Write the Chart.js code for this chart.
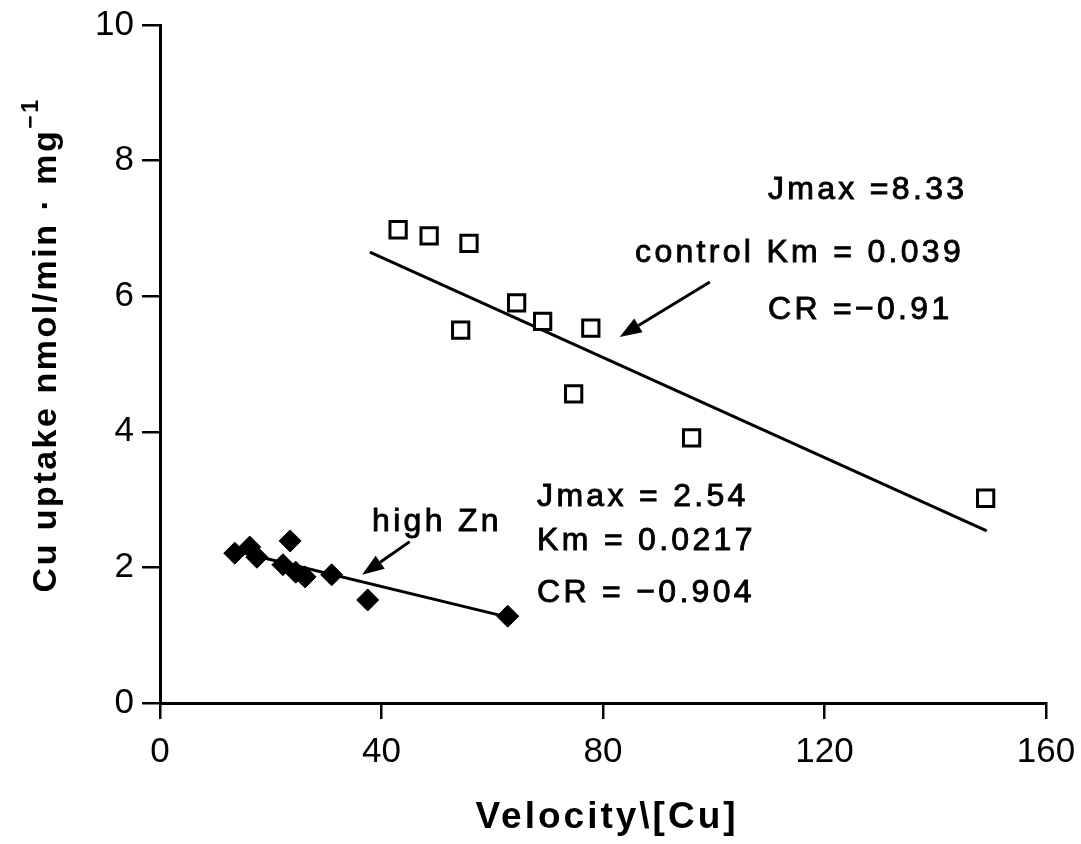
<!DOCTYPE html>
<html>
<head>
<meta charset="utf-8">
<script src="https://cdn.jsdelivr.net/npm/chart.js@4"></script>
<style>
  html, body { margin: 0; padding: 0; background: #fff; }
  #wrap { width: 1081px; height: 844px; }
</style>
</head>
<body>
<div id="wrap"><canvas id="chart" width="1081" height="844"></canvas></div>
<script>
// control series (open squares)
const controlX = [43.0, 48.6, 55.8, 54.3, 64.4, 69.1, 77.8, 74.7, 96.0, 149.1];
const controlY = [6.98, 6.89, 6.78, 5.50, 5.90, 5.63, 5.53, 4.56, 3.91, 3.02];
// high Zn series (filled diamonds)
const zincX = [13.5, 16.2, 17.5, 23.5, 22.2, 24.5, 26.2, 31.0, 37.5, 62.8];
const zincY = [2.21, 2.30, 2.15, 2.39, 2.04, 1.93, 1.86, 1.89, 1.52, 1.28];
// regression lines (end points)
const controlFitX = [37.9, 149.3];
const controlFitY = [6.65, 2.54];
const zincFitX = [13.2, 62.6];
const zincFitY = [2.25, 1.27];
// axis ticks
const xTicks = [0, 40, 80, 120, 160];
const yTicks = [0, 2, 4, 6, 8, 10];

// annotation text, anchored in data units (left edge, middle)
const notes = [
  { text: 'Jmax =8.33', x: 109.8, y: 7.57 },
  { text: 'control Km = 0.039', x: 85.8, y: 6.64 },
  { text: 'CR =\u22120.91', x: 109.8, y: 5.80 },
  { text: 'Jmax = 2.54', x: 68.1, y: 3.04 },
  { text: 'Km = 0.0217', x: 68.1, y: 2.39 },
  { text: 'CR = \u22120.904', x: 68.1, y: 1.62 },
  { text: 'high Zn', x: 38.3, y: 2.67 }
];
// arrows: tail -> head, data units
const arrows = [
  { x1: 99.3, y1: 6.21, x2: 83.0, y2: 5.40 },
  { x1: 45.1, y1: 2.38, x2: 36.5, y2: 1.89 }
];

const pts = (xs, ys) => xs.map((x, i) => ({ x: x, y: ys[i] }));
const FONT = "'Liberation Sans', Arial, sans-serif";

const annotate = {
  id: 'annotate',
  afterDatasetsDraw(chart) {
    const { ctx, scales: { x, y } } = chart;
    ctx.save();
    ctx.fillStyle = '#000';
    ctx.strokeStyle = '#000';
    ctx.font = '32px ' + FONT;
    ctx.letterSpacing = '3.3px';
    ctx.textBaseline = 'middle';
    ctx.textAlign = 'left';
    ctx.lineWidth = 0.9;
    notes.forEach(n => {
      const px = x.getPixelForValue(n.x), py = y.getPixelForValue(n.y);
      ctx.fillText(n.text, px, py);
      ctx.strokeText(n.text, px, py);
    });

    ctx.letterSpacing = '0px';
    ctx.lineWidth = 3;
    arrows.forEach(a => {
      const x1 = x.getPixelForValue(a.x1), y1 = y.getPixelForValue(a.y1);
      const x2 = x.getPixelForValue(a.x2), y2 = y.getPixelForValue(a.y2);
      const ang = Math.atan2(y2 - y1, x2 - x1);
      const len = 22, w = 8;
      const bx = x2 - len * Math.cos(ang), by = y2 - len * Math.sin(ang);
      ctx.beginPath();
      ctx.moveTo(x1, y1);
      ctx.lineTo(bx, by);
      ctx.stroke();
      ctx.beginPath();
      ctx.moveTo(x2, y2);
      ctx.lineTo(bx + w * Math.sin(ang), by - w * Math.cos(ang));
      ctx.lineTo(bx - w * Math.sin(ang), by + w * Math.cos(ang));
      ctx.closePath();
      ctx.fill();
    });

    // x axis title
    ctx.font = 'bold 37px ' + FONT;
    ctx.letterSpacing = '3px';
    ctx.textAlign = 'center';
    ctx.textBaseline = 'alphabetic';
    ctx.fillText('Velocity\\[Cu]', (x.left + x.right) / 2 + 4, 828);

    // y axis title with superscript
    ctx.save();
    ctx.translate(47, (y.top + y.bottom) / 2 - 19);
    ctx.rotate(-Math.PI / 2);
    ctx.textAlign = 'left';
    ctx.textBaseline = 'middle';
    ctx.letterSpacing = '2.5px';
    const main = 'Cu uptake nmol/min \u00b7 mg';
    ctx.font = 'bold 34px ' + FONT;
    const w1 = ctx.measureText(main).width;
    ctx.font = 'bold 23px ' + FONT;
    const w2 = ctx.measureText('\u22121').width;
    const start = -(w1 + w2) / 2;
    ctx.font = 'bold 34px ' + FONT;
    ctx.fillText(main, start, 0);
    ctx.font = 'bold 23px ' + FONT;
    ctx.fillText('\u22121', start + w1, -15);
    ctx.restore();

    ctx.restore();
  }
};

new Chart(document.getElementById('chart'), {
  type: 'scatter',
  data: {
    datasets: [
      {
        label: 'control',
        data: pts(controlX, controlY),
        pointStyle: 'rect',
        pointRadius: 11.5,
        pointBackgroundColor: '#fff',
        pointBorderColor: '#000',
        pointBorderWidth: 3,
        showLine: false,
        order: 1
      },
      {
        label: 'high Zn',
        data: pts(zincX, zincY),
        pointStyle: 'rectRot',
        pointRadius: 11,
        pointBackgroundColor: '#000',
        pointBorderColor: '#000',
        pointBorderWidth: 1,
        showLine: false,
        order: 1
      },
      {
        label: 'control fit',
        data: pts(controlFitX, controlFitY),
        showLine: true,
        borderColor: '#000',
        borderWidth: 3,
        pointRadius: 0,
        order: 2
      },
      {
        label: 'high Zn fit',
        data: pts(zincFitX, zincFitY),
        showLine: true,
        borderColor: '#000',
        borderWidth: 3,
        pointRadius: 0,
        order: 2
      }
    ]
  },
  options: {
    responsive: false,
    animation: false,
    layout: { padding: { top: 25, right: 35, left: 0, bottom: 0 } },
    plugins: {
      legend: { display: false },
      tooltip: { enabled: false }
    },
    scales: {
      x: {
        type: 'linear',
        min: 0, max: 160,
        afterBuildTicks: s => { s.ticks = xTicks.map(v => ({ value: v })); },
        afterFit: s => { s.height = 141; s.paddingLeft = 0; s.paddingRight = 0; },
        grid: { drawOnChartArea: false, drawTicks: true, tickLength: 16, color: '#000', lineWidth: 2.5 },
        border: { color: '#000', width: 3 },
        ticks: { color: '#000', padding: 12, font: { family: FONT, size: 35 } }
      },
      y: {
        type: 'linear',
        min: 0, max: 10,
        afterBuildTicks: s => { s.ticks = yTicks.map(v => ({ value: v })); },
        afterFit: s => { s.width = 160; s.paddingTop = 0; s.paddingBottom = 0; },
        grid: { drawOnChartArea: false, drawTicks: true, tickLength: 18, color: '#000', lineWidth: 2.5 },
        border: { color: '#000', width: 3 },
        ticks: { color: '#000', padding: 8, font: { family: FONT, size: 35 } }
      }
    }
  },
  plugins: [annotate]
});
</script>
</body>
</html>
